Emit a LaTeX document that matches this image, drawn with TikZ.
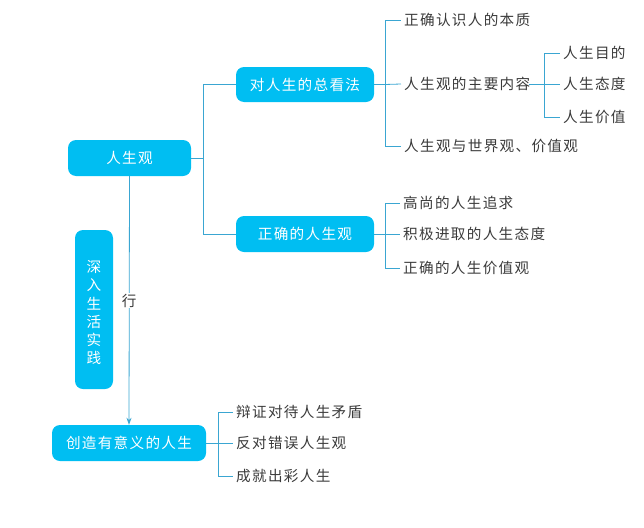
\documentclass[tikz,border=0pt]{standalone}
\usepackage{fontspec}
\setmainfont{Noto Sans CJK SC}[LetterSpace=9]
\usetikzlibrary{arrows.meta}
\definecolor{boxc}{HTML}{00BEF2}
\definecolor{linec}{HTML}{3AA6D2}
\definecolor{txtc}{HTML}{3A3A3A}
\begin{document}
\begin{tikzpicture}[x=1pt,y=-1pt,
  mainbox/.style={fill=boxc,rounded corners=8pt,text=white,font=\fontsize{14.6}{17}\selectfont,inner sep=0pt,minimum height=36pt},
  leaf/.style={anchor=west,text=txtc,font=\fontsize{14.6}{17}\selectfont,inner sep=0pt},
  conn/.style={draw=linec,line width=0.8pt}]
\useasboundingbox (0,0) rectangle (644,527);
% main boxes
\node[mainbox,minimum width=123pt] (rsg) at (129.5,158) {人生观};
\node[mainbox,minimum width=138pt,minimum height=35pt] (dui) at (305,84.5) {对人生的总看法};
\node[mainbox,minimum width=138pt] (zq) at (305,234) {正确的人生观};
\node[mainbox,minimum width=154pt] (cz) at (129,443) {创造有意义的人生};
\node[fill=boxc,rounded corners=8pt,minimum width=38pt,minimum height=159pt,inner sep=0pt] (sr) at (94,309.5) {};
\foreach \c [count=\i] in {深,入,生,活,实,践}
  \node[text=white,font=\fontsize{14.6}{17}\selectfont,inner sep=0pt] (sr\i) at (94,267+18.2*\i-18.2) {\c};
% leaves
\node[leaf] (a1) at (404,20) {正确认识人的本质};
\node[leaf] (a2) at (404,84) {人生观的主要内容};
\node[leaf] (a3) at (404,146) {人生观与世界观、价值观};
\node[leaf] (b1) at (563,53) {人生目的};
\node[leaf] (b2) at (563,84) {人生态度};
\node[leaf] (b3) at (563,117) {人生价值};
\node[leaf] (c1) at (403,203) {高尚的人生追求};
\node[leaf] (c2) at (403,234) {积极进取的人生态度};
\node[leaf] (c3) at (403,268) {正确的人生价值观};
\node[leaf] (d1) at (236,412) {辩证对待人生矛盾};
\node[leaf] (d2) at (236,443) {反对错误人生观};
\node[leaf] (d3) at (236,476) {成就出彩人生};
% connectors
\coordinate (j1) at (203,158);
\draw[conn] (rsg.east) -- (j1);
\draw[conn] (j1) |- (dui.west);
\draw[conn] (j1) |- (zq.west);
\coordinate (j2) at (385,84.5);
\draw[conn] (dui.east) -- (j2);
\draw[conn] (j2) |- ([xshift=-3pt]a1.west);
\draw[conn] (j2) -- ([xshift=-3pt]a2.west);
\draw[conn] (j2) |- ([xshift=-3pt]a3.west);
\coordinate (j3) at (544,84);
\draw[conn] ([xshift=-1pt]a2.east) -- (j3);
\draw[conn] (j3) |- ([xshift=-3pt]b1.west);
\draw[conn] (j3) -- ([xshift=-3pt]b2.west);
\draw[conn] (j3) |- ([xshift=-3pt]b3.west);
\coordinate (j4) at (385,234);
\draw[conn] (zq.east) -- (j4);
\draw[conn] (j4) |- ([xshift=-3pt]c1.west);
\draw[conn] (j4) -- ([xshift=-3pt]c2.west);
\draw[conn] (j4) |- ([xshift=-3pt]c3.west);
\coordinate (j5) at (218,443);
\draw[conn] (cz.east) -- (j5);
\draw[conn] (j5) |- ([xshift=-3pt]d1.west);
\draw[conn] (j5) -- ([xshift=-3pt]d2.west);
\draw[conn] (j5) |- ([xshift=-3pt]d3.west);
% arrow
\draw[conn,-{Stealth[length=7pt,width=5pt]}] (rsg.south) -- (cz.north)
  node[pos=0.5,fill=white,inner sep=1pt,text=txtc,font=\fontsize{14.6}{17}\selectfont] (xing) {行};
\end{tikzpicture}
\end{document}
